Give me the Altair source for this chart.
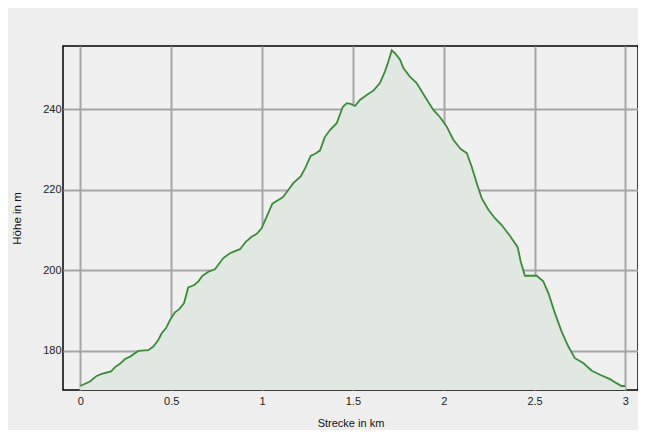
import altair as alt
import pandas as pd

km = [0.0, 0.053, 0.09, 0.118, 0.169, 0.191, 0.218, 0.246, 0.274, 0.319, 0.374, 0.402,
      0.43, 0.448, 0.472, 0.494, 0.521, 0.545, 0.571, 0.594, 0.627, 0.65, 0.673, 0.705,
      0.741, 0.787, 0.824, 0.851, 0.879, 0.912, 0.943, 0.971, 0.998, 1.026, 1.057, 1.081,
      1.114, 1.145, 1.172, 1.213, 1.237, 1.268, 1.292, 1.319, 1.345, 1.374, 1.411, 1.444,
      1.466, 1.488, 1.512, 1.539, 1.576, 1.613, 1.649, 1.677, 1.695, 1.714, 1.732, 1.76,
      1.778, 1.814, 1.851, 1.897, 1.943, 1.98, 2.016, 2.053, 2.09, 2.099, 2.127, 2.154,
      2.182, 2.209, 2.246, 2.282, 2.319, 2.365, 2.407, 2.424, 2.447, 2.512, 2.548, 2.576,
      2.612, 2.649, 2.686, 2.722, 2.768, 2.815, 2.86, 2.915, 2.951, 2.979, 2.998]
hoehe = [171.2, 172.3, 173.7, 174.2, 174.8, 175.9, 176.7, 177.9, 178.5, 179.9, 180.1, 181.0,
         182.7, 184.3, 185.6, 187.6, 189.5, 190.3, 191.8, 195.7, 196.3, 197.2, 198.6, 199.6,
         200.2, 203.0, 204.2, 204.7, 205.2, 207.1, 208.3, 209.0, 210.4, 213.3, 216.5, 217.2,
         218.1, 219.9, 221.6, 223.3, 225.3, 228.4, 228.9, 229.7, 233.0, 234.8, 236.5, 240.5,
         241.5, 241.3, 240.8, 242.3, 243.5, 244.6, 246.5, 249.4, 251.8, 254.6, 253.9, 252.3,
         250.2, 248.1, 246.5, 243.1, 239.8, 238.0, 235.7, 232.4, 230.3, 229.9, 229.1, 225.7,
         221.6, 217.9, 215.0, 212.9, 211.2, 208.5, 205.7, 202.1, 198.6, 198.6, 197.2, 194.3,
         189.3, 184.7, 181.0, 178.1, 176.9, 175.0, 174.0, 172.9, 171.9, 171.2, 171.2]

x_ticks = [0, 0.5, 1, 1.5, 2, 2.5, 3]
y_ticks = [180, 200, 220, 240]
x_domain = [-0.0952, 3.0693]
y_domain = [170.2, 255.7]

df = pd.DataFrame({"km": km, "h": hoehe})

font = "Liberation Sans"

x_enc = alt.X("km:Q", scale=alt.Scale(domain=x_domain, nice=False, zero=False),
              axis=alt.Axis(values=x_ticks, title="Strecke in km", grid=True, format="~g",
                            gridColor="#a6a6a6", gridWidth=2, gridOpacity=1,
                            ticks=False, domain=False, labelPadding=5,
                            labelFont=font, labelFontSize=11, labelColor="#222222",
                            titleFont=font, titleFontSize=11, titleFontWeight="normal",
                            titleColor="#111111", titlePadding=11, labelFlush=False))
y_enc = alt.Y("h:Q", scale=alt.Scale(domain=y_domain, nice=False, zero=False),
              axis=alt.Axis(values=y_ticks, title="Höhe in m", grid=True,
                            gridColor="#a6a6a6", gridWidth=2, gridOpacity=1,
                            ticks=False, domain=False, labelPadding=2,
                            labelFont=font, labelFontSize=11, labelColor="#222222",
                            titleFont=font, titleFontSize=11.5, titleFontWeight="normal",
                            titleColor="#111111", titlePadding=20, labelFlush=False))

area = alt.Chart(df).mark_area(color="#e1e7e1", opacity=1, clip=True).encode(
    x=x_enc, y=y_enc, y2=alt.datum(y_domain[0]))
line = alt.Chart(df).mark_line(color="#3b8b3b", strokeWidth=1.8, clip=True).encode(
    x="km:Q", y="h:Q")

chart = (area + line).properties(
    width=575, height=344,
    autosize=alt.AutoSizeParams(type="none"),
    padding={"left": 55, "top": 38, "right": 0, "bottom": 40},
    background="#eeeeee",
).configure_view(stroke="#000000", strokeWidth=1.5, fill="#f0f0f0")

chart.save("out.html", embed_options={"renderer": "svg", "actions": False})
